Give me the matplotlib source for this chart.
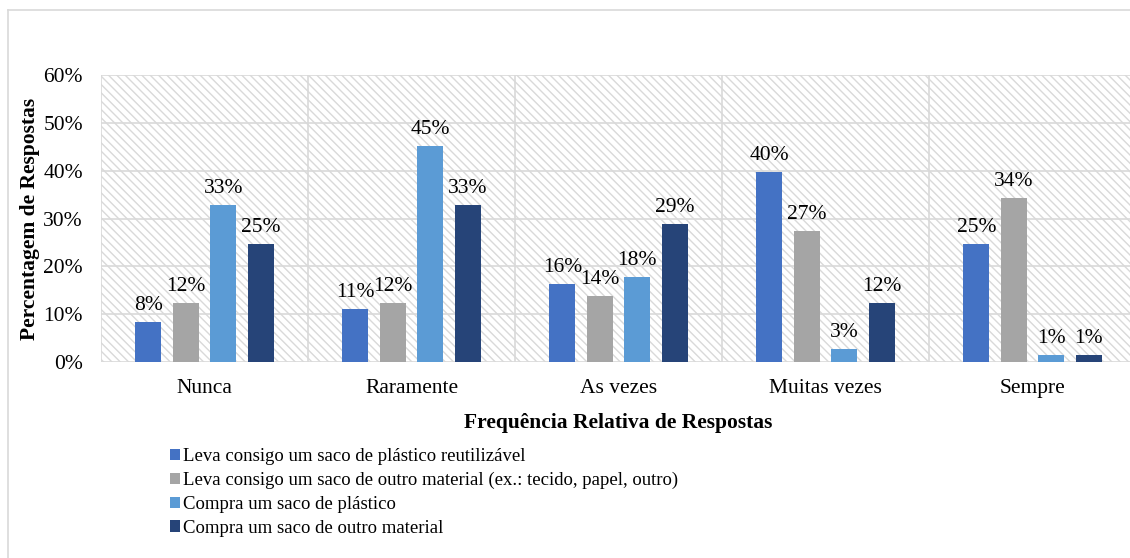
import matplotlib.pyplot as plt
from matplotlib.patches import Rectangle
from matplotlib.lines import Line2D
from matplotlib.ticker import FuncFormatter
import numpy as np

plt.rcParams['font.family'] = ['Liberation Serif', 'DejaVu Serif']
plt.rcParams['hatch.color'] = '#d9d9d9'
plt.rcParams['hatch.linewidth'] = 1.0

categories = ['Nunca', 'Raramente', 'As vezes', 'Muitas vezes', 'Sempre']
series_names = [
    'Leva consigo um saco de plástico reutilizável',
    'Leva consigo um saco de outro material (ex.: tecido, papel, outro)',
    'Compra um saco de plástico',
    'Compra um saco de outro material',
]
leva_plastico = [8.3, 11.0, 16.4, 39.7, 24.6]
leva_outro = [12.4, 12.3, 13.8, 27.4, 34.2]
compra_plastico = [32.9, 45.2, 17.8, 2.7, 1.4]
compra_outro = [24.7, 32.9, 28.8, 12.3, 1.4]
series_colors = ['#4472C4', '#A5A5A5', '#5B9BD5', '#264478']
y_ticks = [0, 10, 20, 30, 40, 50, 60]

all_series = [leva_plastico, leva_outro, compra_plastico, compra_outro]
fs = 15.5

fig = plt.figure(figsize=(11.3, 5.58), dpi=100)
ax = fig.add_axes([101 / 1130, 1 - 362 / 558, 1035 / 1130, 287 / 558])

# hatched background
ax.set_facecolor('white')
ax.add_patch(Rectangle((0, 0), 1, 1, transform=ax.transAxes, facecolor='white',
                       edgecolor='#d9d9d9', hatch='\\\\\\\\', linewidth=0, zorder=0))

x = np.arange(len(categories))
step = 0.181
width = 0.126
for i, (vals, name, col) in enumerate(zip(all_series, series_names, series_colors)):
    pos = x + (i - 1.5) * step
    ax.bar(pos, vals, width, color=col, label=name, zorder=3)
    for p, v in zip(pos, vals):
        ax.annotate(f'{v:.0f}%', (p, v), xytext=(0, 5), textcoords='offset points',
                    ha='center', va='bottom', fontsize=fs, zorder=4)

ax.set_xlim(-0.5, len(categories) - 0.5)
ax.set_ylim(0, 60)
ax.set_yticks(y_ticks)
ax.yaxis.set_major_formatter(FuncFormatter(lambda v, _: f'{v:.0f}%'))
ax.set_xticks(x)
ax.set_xticklabels(categories)

# grid lines
for yv in y_ticks:
    ax.axhline(yv, color='#d9d9d9', linewidth=1.2, zorder=1)
for xv in np.arange(-0.5, len(categories), 1.0):
    ax.axvline(xv, color='#d9d9d9', linewidth=1.2, zorder=1)

for s in ax.spines.values():
    s.set_visible(False)
ax.tick_params(axis='both', length=0, labelsize=fs)
ax.tick_params(axis='y', pad=13)
ax.tick_params(axis='x', pad=12)

ax.set_ylabel('Percentagem de Respostas', fontsize=fs, fontweight='bold')
ax.yaxis.set_label_coords(-0.059, 0.5)
ax.set_xlabel('Frequência Relativa de Respostas', fontsize=fs, fontweight='bold')
ax.xaxis.set_label_coords(0.5, -0.176)

fig.legend(loc='upper left', bbox_to_anchor=(170 / 1130, 1 - 448 / 558), frameon=False,
           fontsize=13.5, handlelength=0.55, handleheight=0.55, handletextpad=0.15,
           labelspacing=0.36, borderaxespad=0, borderpad=0)

# outer chart border
fig.add_artist(Line2D([8 / 1130, 8 / 1130], [0, 1 - 10 / 558], transform=fig.transFigure,
                      color='#d9d9d9', linewidth=1.2))
fig.add_artist(Line2D([8 / 1130, 1], [1 - 10 / 558, 1 - 10 / 558], transform=fig.transFigure,
                      color='#d9d9d9', linewidth=1.2))

fig.savefig('out.png', dpi=100)
